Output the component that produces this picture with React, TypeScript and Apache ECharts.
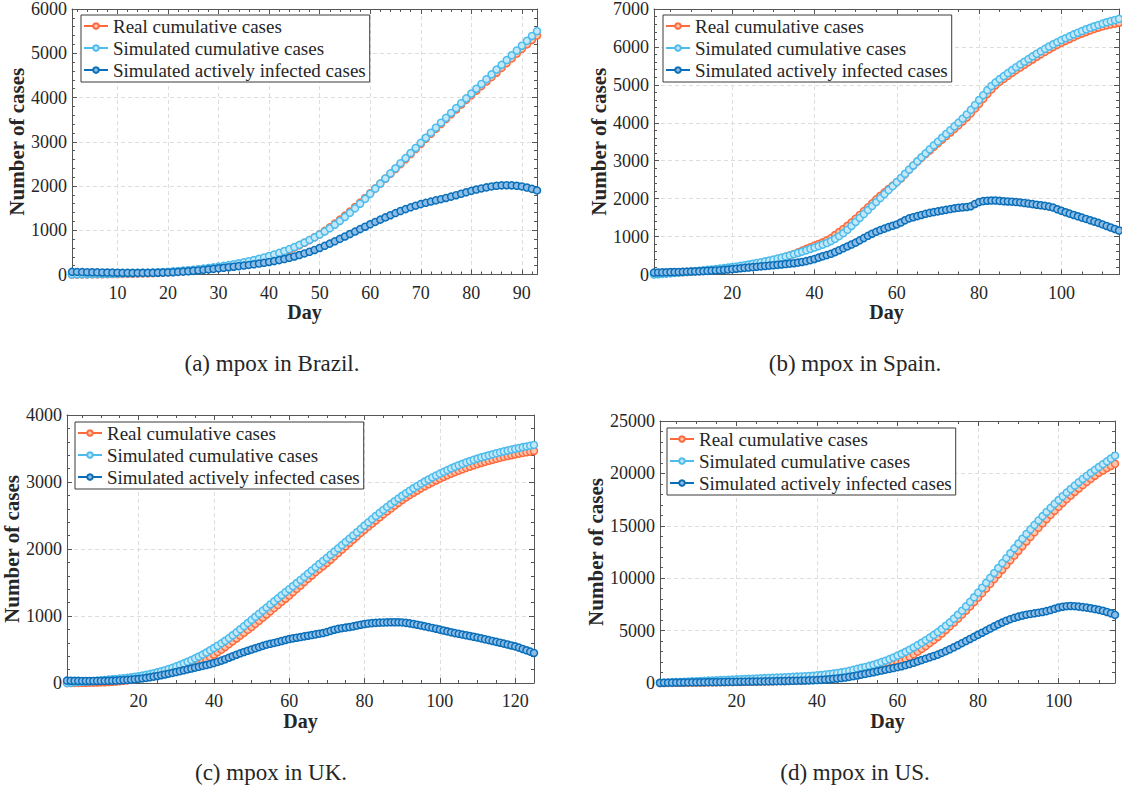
import React, { useEffect, useRef } from "react";
import * as echarts from "echarts";

const SERIES_NAMES = [
  "Real cumulative cases",
  "Simulated cumulative cases",
  "Simulated actively infected cases",
];
const COLORS = ["#FF6A3C", "#4DBCEC", "#0A6FB8"];
const FILLS = ["#FFC4AC", "#C4E8F8", "#8DBDE6"];

// ---------- (a) Brazil, days 1..93 ----------
const brazilReal = [
  0, 1, 2, 3, 4, 5, 6, 8, 10, 12,
  14, 16, 18, 21, 24, 28, 32, 37, 43, 50,
  58, 67, 77, 88, 100, 112, 124, 136, 148, 160,
  175, 192, 210, 230, 252, 276, 302, 330, 360, 395,
  432, 472, 515, 560, 610, 662, 718, 778, 842, 910,
  985, 1065, 1150, 1240, 1330, 1425, 1525, 1625, 1730, 1835,
  1945, 2055, 2165, 2275, 2385, 2495, 2605, 2720, 2835, 2950,
  3065, 3180, 3290, 3400, 3510, 3620, 3730, 3840, 3945, 4050,
  4155, 4258, 4360, 4460, 4560, 4668, 4776, 4884, 4992, 5100,
  5200, 5300, 5400,
];
const brazilSimCum = [
  0, 2, 4, 6, 8, 10, 12, 14, 16, 19,
  22, 25, 28, 32, 36, 40, 45, 50, 56, 62,
  70, 78, 87, 97, 108, 120, 133, 147, 162, 178,
  195, 213, 233, 254, 277, 301, 327, 355, 385, 417,
  452, 490, 530, 573, 620, 670, 723, 780, 840, 904,
  972, 1045, 1125, 1210, 1300, 1395, 1495, 1600, 1710, 1825,
  1940, 2055, 2170, 2285, 2400, 2515, 2630, 2745, 2860, 2975,
  3090, 3205, 3318, 3430, 3540, 3650, 3760, 3870, 3980, 4090,
  4198, 4306, 4414, 4522, 4630, 4738, 4846, 4954, 5062, 5170,
  5280, 5390, 5500,
];
const brazilActive = [
  60, 58, 55, 52, 50, 48, 46, 44, 42, 40,
  38, 37, 36, 36, 36, 37, 38, 40, 43, 47,
  52, 58, 65, 73, 82, 92, 103, 115, 127, 140,
  152, 164, 176, 189, 202, 216, 231, 247, 264, 283,
  303, 325, 350, 377, 407, 440, 476, 514, 554, 600,
  648, 698, 750, 805, 860, 915, 970, 1025, 1080, 1135,
  1188, 1240, 1290, 1340, 1388, 1435, 1478, 1518, 1555, 1590,
  1620, 1648, 1675, 1702, 1730, 1760, 1792, 1825, 1858, 1890,
  1920, 1945, 1968, 1990, 2005, 2015, 2018, 2015, 2005, 1990,
  1965, 1935, 1900,
];

// ---------- (b) Spain, days 1..114 ----------
const spainReal = [
  20, 25, 30, 36, 42, 48, 55, 62, 69, 76,
  83, 90, 98, 106, 114, 123, 133, 143, 154, 166,
  180, 195, 212, 230, 250, 270, 292, 315, 340, 368,
  398, 430, 465, 502, 542, 585, 630, 675, 720, 765,
  805, 850, 900, 960, 1040, 1120, 1200, 1285, 1375, 1470,
  1570, 1670, 1770, 1875, 1980, 2075, 2165, 2255, 2345, 2435,
  2530, 2640, 2760, 2870, 2975, 3075, 3175, 3270, 3365, 3460,
  3555, 3650, 3745, 3840, 3935, 4035, 4140, 4250, 4375, 4500,
  4630, 4760, 4880, 4990, 5080, 5160, 5240, 5315, 5388, 5457,
  5530, 5600, 5670, 5740, 5805, 5870, 5935, 5995, 6055, 6110,
  6160, 6210, 6260, 6310, 6355, 6395, 6435, 6475, 6510, 6545,
  6570, 6595, 6615, 6635,
];
const spainSimCum = [
  0, 8, 16, 24, 33, 42, 51, 60, 70, 80,
  90, 100, 110, 121, 132, 143, 155, 168, 182, 197,
  212, 228, 245, 263, 282, 302, 323, 345, 368, 392,
  418, 445, 473, 503, 535, 568, 602, 637, 673, 710,
  748, 788, 830, 880, 940, 1010, 1090, 1180, 1280, 1385,
  1490, 1595, 1700, 1805, 1910, 2015, 2120, 2225, 2330, 2435,
  2545, 2655, 2765, 2875, 2985, 3090, 3195, 3300, 3405, 3505,
  3605, 3705, 3805, 3905, 4005, 4110, 4220, 4340, 4470, 4600,
  4730, 4860, 4970, 5065, 5150, 5230, 5310, 5390, 5465, 5540,
  5610, 5680, 5750, 5820, 5885, 5950, 6010, 6070, 6125, 6180,
  6230, 6280, 6330, 6375, 6420, 6465, 6505, 6545, 6580, 6615,
  6650, 6680, 6710, 6740,
];
const spainActive = [
  50, 53, 56, 59, 62, 65, 68, 71, 74, 77,
  81, 85, 90, 95, 101, 107, 114, 122, 131, 141,
  152, 163, 174, 184, 194, 204, 214, 224, 234, 244,
  254, 264, 275, 286, 298, 312, 330, 352, 378, 410,
  445, 480, 510, 545, 590, 640, 690, 740, 790, 840,
  900, 960, 1020, 1075, 1125, 1170, 1210, 1250, 1285, 1320,
  1370, 1430, 1480, 1510, 1540, 1570, 1600, 1625, 1645, 1665,
  1685, 1705, 1725, 1745, 1760, 1770, 1780, 1800, 1860, 1910,
  1935, 1945, 1950, 1950, 1940, 1930, 1925, 1920, 1910, 1900,
  1885, 1870, 1855, 1840, 1825, 1810, 1790, 1765, 1720, 1680,
  1640, 1605, 1570, 1535, 1500, 1465, 1430, 1395, 1360, 1320,
  1280, 1240, 1200, 1160,
];

// ---------- (c) UK, days 1..125 ----------
const ukReal = [
  0, 0, 1, 2, 3, 4, 5, 6, 8, 10,
  12, 15, 18, 22, 27, 33, 40, 48, 58, 70,
  80, 90, 100, 110, 120, 130, 140, 150, 162, 174,
  188, 204, 222, 242, 265, 290, 318, 350, 385, 423,
  460, 498, 538, 580, 623, 665, 708, 750, 792, 835,
  882, 929, 976, 1023, 1070, 1117, 1164, 1211, 1258, 1305,
  1355, 1405, 1455, 1505, 1555, 1605, 1655, 1700, 1745, 1790,
  1840, 1890, 1940, 1990, 2040, 2090, 2140, 2190, 2240, 2286,
  2333, 2380, 2426, 2472, 2517, 2561, 2604, 2647, 2690, 2732,
  2770, 2806, 2840, 2873, 2905, 2936, 2966, 2995, 3023, 3050,
  3075, 3100, 3124, 3147, 3169, 3190, 3210, 3230, 3249, 3267,
  3284, 3300, 3316, 3331, 3346, 3360, 3374, 3387, 3400, 3412,
  3423, 3434, 3444, 3454, 3463,
];
const ukSimCum = [
  0, 5, 10, 14, 18, 22, 26, 30, 35, 40,
  45, 50, 55, 60, 65, 71, 77, 84, 92, 100,
  110, 121, 133, 146, 160, 175, 191, 209, 228, 248,
  270, 293, 317, 342, 368, 395, 423, 455, 488, 522,
  556, 592, 630, 670, 712, 756, 802, 848, 895, 942,
  988, 1034, 1080, 1126, 1172, 1218, 1264, 1310, 1356, 1400,
  1446, 1492, 1538, 1584, 1632, 1680, 1728, 1776, 1822, 1868,
  1915, 1962, 2010, 2058, 2106, 2154, 2202, 2250, 2300, 2350,
  2398, 2446, 2493, 2539, 2584, 2628, 2671, 2713, 2754, 2794,
  2833, 2870, 2906, 2941, 2975, 3007, 3038, 3068, 3097, 3125,
  3152, 3178, 3203, 3227, 3250, 3272, 3293, 3313, 3332, 3350,
  3367, 3383, 3399, 3414, 3429, 3443, 3457, 3470, 3483, 3496,
  3508, 3520, 3531, 3542, 3553,
];
const ukActive = [
  35, 34, 33, 32, 31, 30, 30, 30, 30, 31,
  32, 33, 35, 37, 40, 43, 47, 51, 56, 61,
  68, 76, 85, 95, 105, 116, 127, 139, 151, 164,
  177, 190, 203, 216, 229, 242, 255, 268, 282, 298,
  315, 334, 355, 377, 400, 422, 443, 463, 482, 500,
  518, 536, 554, 572, 585, 598, 612, 627, 642, 656,
  666, 676, 686, 696, 706, 716, 726, 736, 746, 760,
  778, 795, 808, 818, 826, 835, 845, 858, 870, 880,
  888, 894, 898, 901, 903, 905, 906, 907, 906, 904,
  898, 890, 880, 870, 858, 846, 834, 822, 810, 797,
  783, 770, 757, 745, 734, 723, 712, 701, 690, 678,
  666, 653, 640, 627, 614, 601, 588, 574, 560, 546,
  528, 508, 488, 468, 448,
];

// ---------- (d) US, days 1..114 ----------
const usReal = [
  0, 5, 10, 15, 20, 25, 30, 35, 40, 45,
  50, 55, 60, 66, 72, 78, 84, 90, 96, 102,
  108, 115, 122, 129, 136, 144, 152, 160, 168, 176,
  185, 194, 204, 215, 228, 243, 260, 280, 305, 335,
  370, 410, 455, 505, 560, 620, 690, 770, 860, 960,
  1060, 1120, 1190, 1270, 1360, 1460, 1570, 1690, 1820, 1960,
  2080, 2280, 2500, 2740, 2990, 3250, 3520, 3800, 4090, 4390,
  4720, 5060, 5410, 5770, 6140, 6520, 6910, 7310, 7720, 8140,
  8570, 9010, 9460, 9910, 10360, 10810, 11260, 11710, 12160, 12600,
  13050, 13500, 13940, 14380, 14810, 15230, 15640, 16040, 16430, 16810,
  17180, 17540, 17890, 18230, 18560, 18880, 19190, 19490, 19780, 20060,
  20280, 20500, 20710, 20920,
];
const usSimCum = [
  0, 20, 40, 60, 80, 100, 118, 136, 154, 172,
  190, 207, 224, 241, 258, 275, 292, 309, 326, 343,
  360, 377, 394, 411, 428, 445, 462, 479, 496, 513,
  530, 548, 566, 585, 605, 626, 648, 672, 698, 726,
  760, 800, 845, 895, 950, 1010, 1080, 1160, 1250, 1350,
  1440, 1530, 1630, 1740, 1860, 1990, 2130, 2280, 2440, 2610,
  2790, 2980, 3180, 3390, 3610, 3840, 4080, 4330, 4590, 4860,
  5150, 5460, 5790, 6140, 6510, 6900, 7310, 7740, 8180, 8630,
  9090, 9560, 10030, 10500, 10970, 11440, 11910, 12380, 12850, 13310,
  13770, 14220, 14660, 15090, 15510, 15920, 16320, 16710, 17090, 17460,
  17820, 18170, 18510, 18840, 19160, 19470, 19770, 20060, 20340, 20610,
  20880, 21150, 21420, 21690,
];
const usActive = [
  20, 25, 30, 35, 40, 45, 50, 55, 60, 65,
  70, 75, 80, 85, 90, 95, 100, 105, 110, 115,
  120, 126, 132, 138, 144, 150, 157, 164, 171, 178,
  186, 194, 202, 211, 220, 230, 241, 253, 266, 280,
  300, 325, 355, 390, 430, 475, 525, 585, 650, 720,
  795, 870, 950, 1030, 1110, 1190, 1270, 1350, 1430, 1510,
  1600, 1700, 1810, 1930, 2060, 2190, 2320, 2450, 2580, 2710,
  2870, 3040, 3220, 3410, 3600, 3800, 4000, 4200, 4400, 4600,
  4800, 5000, 5200, 5400, 5590, 5770, 5940, 6090, 6220, 6330,
  6430, 6520, 6590, 6650, 6710, 6780, 6860, 6960, 7080, 7200,
  7280, 7330, 7350, 7330, 7290, 7240, 7190, 7130, 7060, 6980,
  6890, 6780, 6650, 6500,
];

const CAPTIONS = [
  "(a) mpox in Brazil.",
  "(b) mpox in Spain.",
  "(c) mpox in UK.",
  "(d) mpox in US.",
];
const Y_MAX = [6000, 7000, 4000, 25000];
const Y_STEP = [1000, 1000, 1000, 5000];
const X_STEP = [10, 20, 20, 20];
const X_MINOR = [5, 4, 4, 4];
const PANEL_DATA = [
  [brazilReal, brazilSimCum, brazilActive],
  [spainReal, spainSimCum, spainActive],
  [ukReal, ukSimCum, ukActive],
  [usReal, usSimCum, usActive],
];

// layout (pixels)
const GRIDS = [
  { left: 72, top: 9, width: 465, height: 265.5 },
  { left: 654, top: 9, width: 465, height: 265.5 },
  { left: 67, top: 415, width: 467, height: 268 },
  { left: 660, top: 421, width: 455, height: 262 },
];
const LEGEND_POS = [
  { left: 81, top: 15 },
  { left: 663, top: 15 },
  { left: 75, top: 422 },
  { left: 667, top: 428 },
];
const NAME_GAP_Y = [44, 44, 44, 54];
const CAPTION_POS = [
  { x: 272, y: 363 },
  { x: 855, y: 363 },
  { x: 271, y: 772 },
  { x: 855, y: 772 },
];

const FONT = "'Liberation Serif', 'Times New Roman', serif";
const AXIS_COLOR = "#555";
const TEXT_COLOR = "#262626";

export default function App() {
  const ref = useRef<HTMLDivElement>(null);
  useEffect(() => {
    if (!ref.current) return;
    const chart = echarts.init(ref.current, undefined, { renderer: "svg" });

    const grid: any[] = [];
    const xAxis: any[] = [];
    const yAxis: any[] = [];
    const series: any[] = [];
    const legend: any[] = [];
    const graphic: any[] = [];

    PANEL_DATA.forEach((sets, p) => {
      const n = sets[0].length;
      grid.push({ ...GRIDS[p], containLabel: false });
      const baseX = {
        type: "value",
        gridIndex: p,
        min: 1,
        max: n,
        splitNumber: Math.round((n - 1) / X_STEP[p]),
        axisLine: { show: true, onZero: false, lineStyle: { color: AXIS_COLOR, width: 1 } },
        axisTick: { show: true, inside: true, length: 5, lineStyle: { color: AXIS_COLOR } },
        minorTick: { show: true, splitNumber: X_MINOR[p], length: 3, lineStyle: { color: AXIS_COLOR } },
      };
      xAxis.push({
        ...baseX,
        position: "bottom",
        name: "Day",
        nameLocation: "middle",
        nameGap: 26,
        nameTextStyle: { fontFamily: FONT, fontWeight: "bold", fontSize: 20, color: TEXT_COLOR },
        axisLabel: {
          fontFamily: FONT,
          fontSize: 18,
          color: TEXT_COLOR,
          margin: 9,
          formatter: (v: number) => (v % X_STEP[p] === 0 ? String(v) : ""),
        },
        splitLine: { show: true, lineStyle: { color: "#dedede", type: [4, 3], width: 1 } },
      });
      xAxis.push({
        ...baseX,
        position: "top",
        axisLabel: { show: false },
        splitLine: { show: false },
      });
      const baseY = {
        type: "value",
        gridIndex: p,
        min: 0,
        max: Y_MAX[p],
        interval: Y_STEP[p],
        axisLine: { show: true, onZero: false, lineStyle: { color: AXIS_COLOR, width: 1 } },
        axisTick: { show: true, inside: true, length: 5, lineStyle: { color: AXIS_COLOR } },
        minorTick: { show: true, splitNumber: 5, length: 3, lineStyle: { color: AXIS_COLOR } },
      };
      yAxis.push({
        ...baseY,
        position: "left",
        name: "Number of cases",
        nameLocation: "middle",
        nameGap: NAME_GAP_Y[p],
        nameTextStyle: { fontFamily: FONT, fontWeight: "bold", fontSize: 21, color: TEXT_COLOR },
        axisLabel: {
          fontFamily: FONT,
          fontSize: 18,
          color: TEXT_COLOR,
          margin: 5,
          formatter: (v: number) => String(v),
        },
        splitLine: { show: true, lineStyle: { color: "#dedede", type: [4, 3], width: 1 } },
      });
      yAxis.push({
        ...baseY,
        position: "right",
        axisLabel: { show: false },
        splitLine: { show: false },
      });

      sets.forEach((vals, s) => {
        series.push({
          type: "line",
          name: SERIES_NAMES[s],
          xAxisIndex: p * 2,
          yAxisIndex: p * 2,
          data: vals.map((v, i) => [i + 1, v]),
          symbol: "circle",
          symbolSize: 7,
          showSymbol: true,
          lineStyle: { color: COLORS[s], width: 1.5 },
          itemStyle: { color: FILLS[s], borderColor: COLORS[s], borderWidth: 1.5 },
          emphasis: { disabled: true },
          z: 2 + s,
        });
      });

      legend.push({
        ...LEGEND_POS[p],
        orient: "vertical",
        data: SERIES_NAMES,
        backgroundColor: "#ffffff",
        borderColor: "#3a3a3a",
        borderWidth: 1,
        borderRadius: 0,
        padding: [1, 4, 2, 2],
        itemGap: 2,
        itemWidth: 24,
        itemHeight: 7,
        selectedMode: false,
        textStyle: { fontFamily: FONT, fontSize: 19, color: TEXT_COLOR, lineHeight: 20 },
        z: 10,
      });

      graphic.push({
        type: "text",
        x: CAPTION_POS[p].x,
        y: CAPTION_POS[p].y,
        style: {
          text: CAPTIONS[p],
          fontFamily: FONT,
          fontSize: 23,
          fill: TEXT_COLOR,
          textAlign: "center",
          textVerticalAlign: "middle",
        },
      });
    });

    chart.setOption({
      animation: false,
      backgroundColor: "#ffffff",
      grid,
      xAxis,
      yAxis,
      series,
      legend,
      graphic,
      tooltip: { show: false },
    });
    return () => chart.dispose();
  }, []);

  return (
    <div
      ref={ref}
      style={{ position: "absolute", left: 0, top: 0, width: 1122, height: 789 }}
    />
  );
}
